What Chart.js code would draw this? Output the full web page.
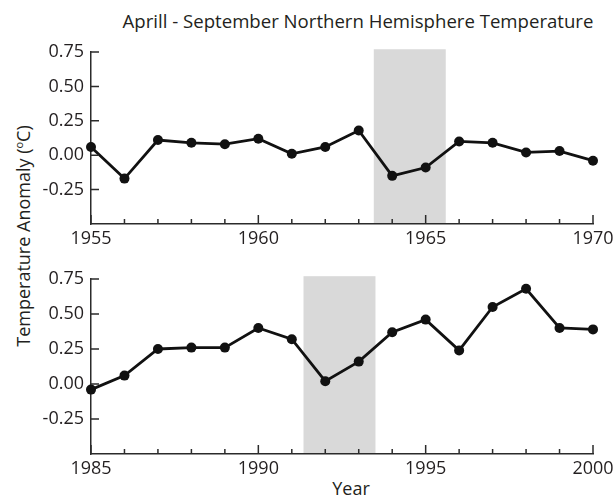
<!DOCTYPE html>
<html>
<head>
<meta charset="utf-8">
<script src="https://cdn.jsdelivr.net/npm/chart.js@4.4.1/dist/chart.umd.min.js"></script>
<style>
  body { margin: 0; background: #fff; }
  #wrap { position: relative; width: 613px; height: 497px; font-family: "Open Sans", sans-serif; color: #231f20; }
  canvas { position: absolute; left: 0; }
  .txt { position: absolute; white-space: nowrap; line-height: 1; }
  #title { left: 358px; top: 21px; font-size: 18.6px; transform: translate(-50%, -50%); }
  #ytitle { left: 22px; top: 236px; font-size: 18px; transform: translate(-50%, -50%) rotate(-90deg); }
  #ytitle sup { font-size: 11px; vertical-align: 7px; }
  #xtitle { left: 351px; top: 488px; font-size: 18px; transform: translate(-50%, -50%); }
</style>
</head>
<body>
<div id="wrap">
  <div class="txt" id="title">Aprill - September Northern Hemisphere Temperature</div>
  <div class="txt" id="ytitle">Temperature Anomaly (<sup>o</sup>C)</div>
  <div class="txt" id="xtitle">Year</div>
  <canvas id="top" width="613" height="250" style="top:0"></canvas>
  <canvas id="bottom" width="613" height="247" style="top:250px"></canvas>
</div>
<script>
// data
const years1 = [1955, 1956, 1957, 1958, 1959, 1960, 1961, 1962, 1963, 1964, 1965, 1966, 1967, 1968, 1969, 1970];
const temps1 = [0.06, -0.17, 0.11, 0.09, 0.08, 0.12, 0.01, 0.06, 0.18, -0.15, -0.09, 0.10, 0.09, 0.02, 0.03, -0.04];
const years2 = [1985, 1986, 1987, 1988, 1989, 1990, 1991, 1992, 1993, 1994, 1995, 1996, 1997, 1998, 1999, 2000];
const temps2 = [-0.04, 0.06, 0.25, 0.26, 0.26, 0.40, 0.32, 0.02, 0.16, 0.37, 0.46, 0.24, 0.55, 0.68, 0.40, 0.39];
const xLabels1 = [1955, 1960, 1965, 1970];
const xLabels2 = [1985, 1990, 1995, 2000];
const yLabels = [-0.25, 0, 0.25, 0.5, 0.75];
const band1 = [1963.45, 1965.6];
const band2 = [1991.35, 1993.5];
const bandTop = 0.77;

Chart.defaults.font.family = '"Open Sans", sans-serif';
Chart.defaults.font.size = 18;
Chart.defaults.color = '#231f20';

const axisColor = '#2b2b2b';

// grey shaded band, painted under everything
const bandPlugin = {
  id: 'band',
  beforeDraw(chart, args, opts) {
    const { ctx, scales: { x, y } } = chart;
    const x0 = x.getPixelForValue(opts.from);
    const x1 = x.getPixelForValue(opts.to);
    const t = y.getPixelForValue(bandTop);
    const b = y.getPixelForValue(y.min);
    ctx.save();
    ctx.fillStyle = '#d9d9d9';
    ctx.fillRect(x0, t, x1 - x0, b - t);
    ctx.restore();
  }
};

// tick marks pointing into the plot
const innerTicks = {
  id: 'innerTicks',
  afterDatasetsDraw(chart, args, opts) {
    const { ctx, scales: { x, y } } = chart;
    ctx.save();
    ctx.strokeStyle = axisColor;
    ctx.lineWidth = 1.5;
    ctx.beginPath();
    x.ticks.forEach(t => {
      const px = x.getPixelForValue(t.value);
      const len = opts.xLabels.includes(t.value) ? 9 : 5;
      ctx.moveTo(px, y.bottom);
      ctx.lineTo(px, y.bottom - len);
    });
    yLabels.forEach(v => {
      const py = y.getPixelForValue(v);
      ctx.moveTo(x.left, py);
      ctx.lineTo(x.left + 8, py);
    });
    ctx.stroke();
    ctx.restore();
  }
};

const makeChart = (id, years, temps, xLabels, band, padTop, xHeight) => {
  const ctx = document.getElementById(id).getContext('2d');
  return new Chart(ctx, {
    type: 'line',
    data: {
      datasets: [{
        data: years.map((yr, i) => ({ x: yr, y: temps[i] })),
        borderColor: '#111',
        borderWidth: 2.8,
        pointRadius: 5,
        pointBackgroundColor: '#111',
        pointBorderWidth: 0,
        tension: 0,
        clip: false
      }]
    },
    options: {
      responsive: false,
      animation: false,
      layout: { padding: { top: padTop, right: 20, left: 0, bottom: 0 } },
      plugins: {
        legend: { display: false },
        tooltip: { enabled: false },
        band: { from: band[0], to: band[1] },
        innerTicks: { xLabels: xLabels }
      },
      scales: {
        x: {
          type: 'linear',
          min: years[0],
          max: years[years.length - 1],
          grid: { display: false, drawTicks: false },
          border: { display: true, color: axisColor, width: 1.5 },
          ticks: {
            stepSize: 1,
            autoSkip: false,
            maxRotation: 0,
            padding: 4,
            callback: v => xLabels.includes(v) ? String(v) : ''
          },
          afterFit: s => {
            s.height = xHeight;
            s.paddingLeft = 0;
            s.paddingRight = 0;
          }
        },
        y: {
          min: -0.5,
          max: 0.75,
          grid: { display: false, drawTicks: false },
          border: { display: true, color: axisColor, width: 1.5 },
          ticks: {
            stepSize: 0.25,
            padding: 7,
            callback: v => v < -0.3 ? '' : v.toFixed(2)
          },
          afterFit: s => {
            s.width = 91;
            s.paddingTop = 0;
            s.paddingBottom = 0;
          }
        }
      }
    },
    plugins: [bandPlugin, innerTicks]
  });
};

makeChart('top', years1, temps1, xLabels1, band1, 52, 26);
makeChart('bottom', years2, temps2, xLabels2, band2, 29, 43);
</script>
</body>
</html>
